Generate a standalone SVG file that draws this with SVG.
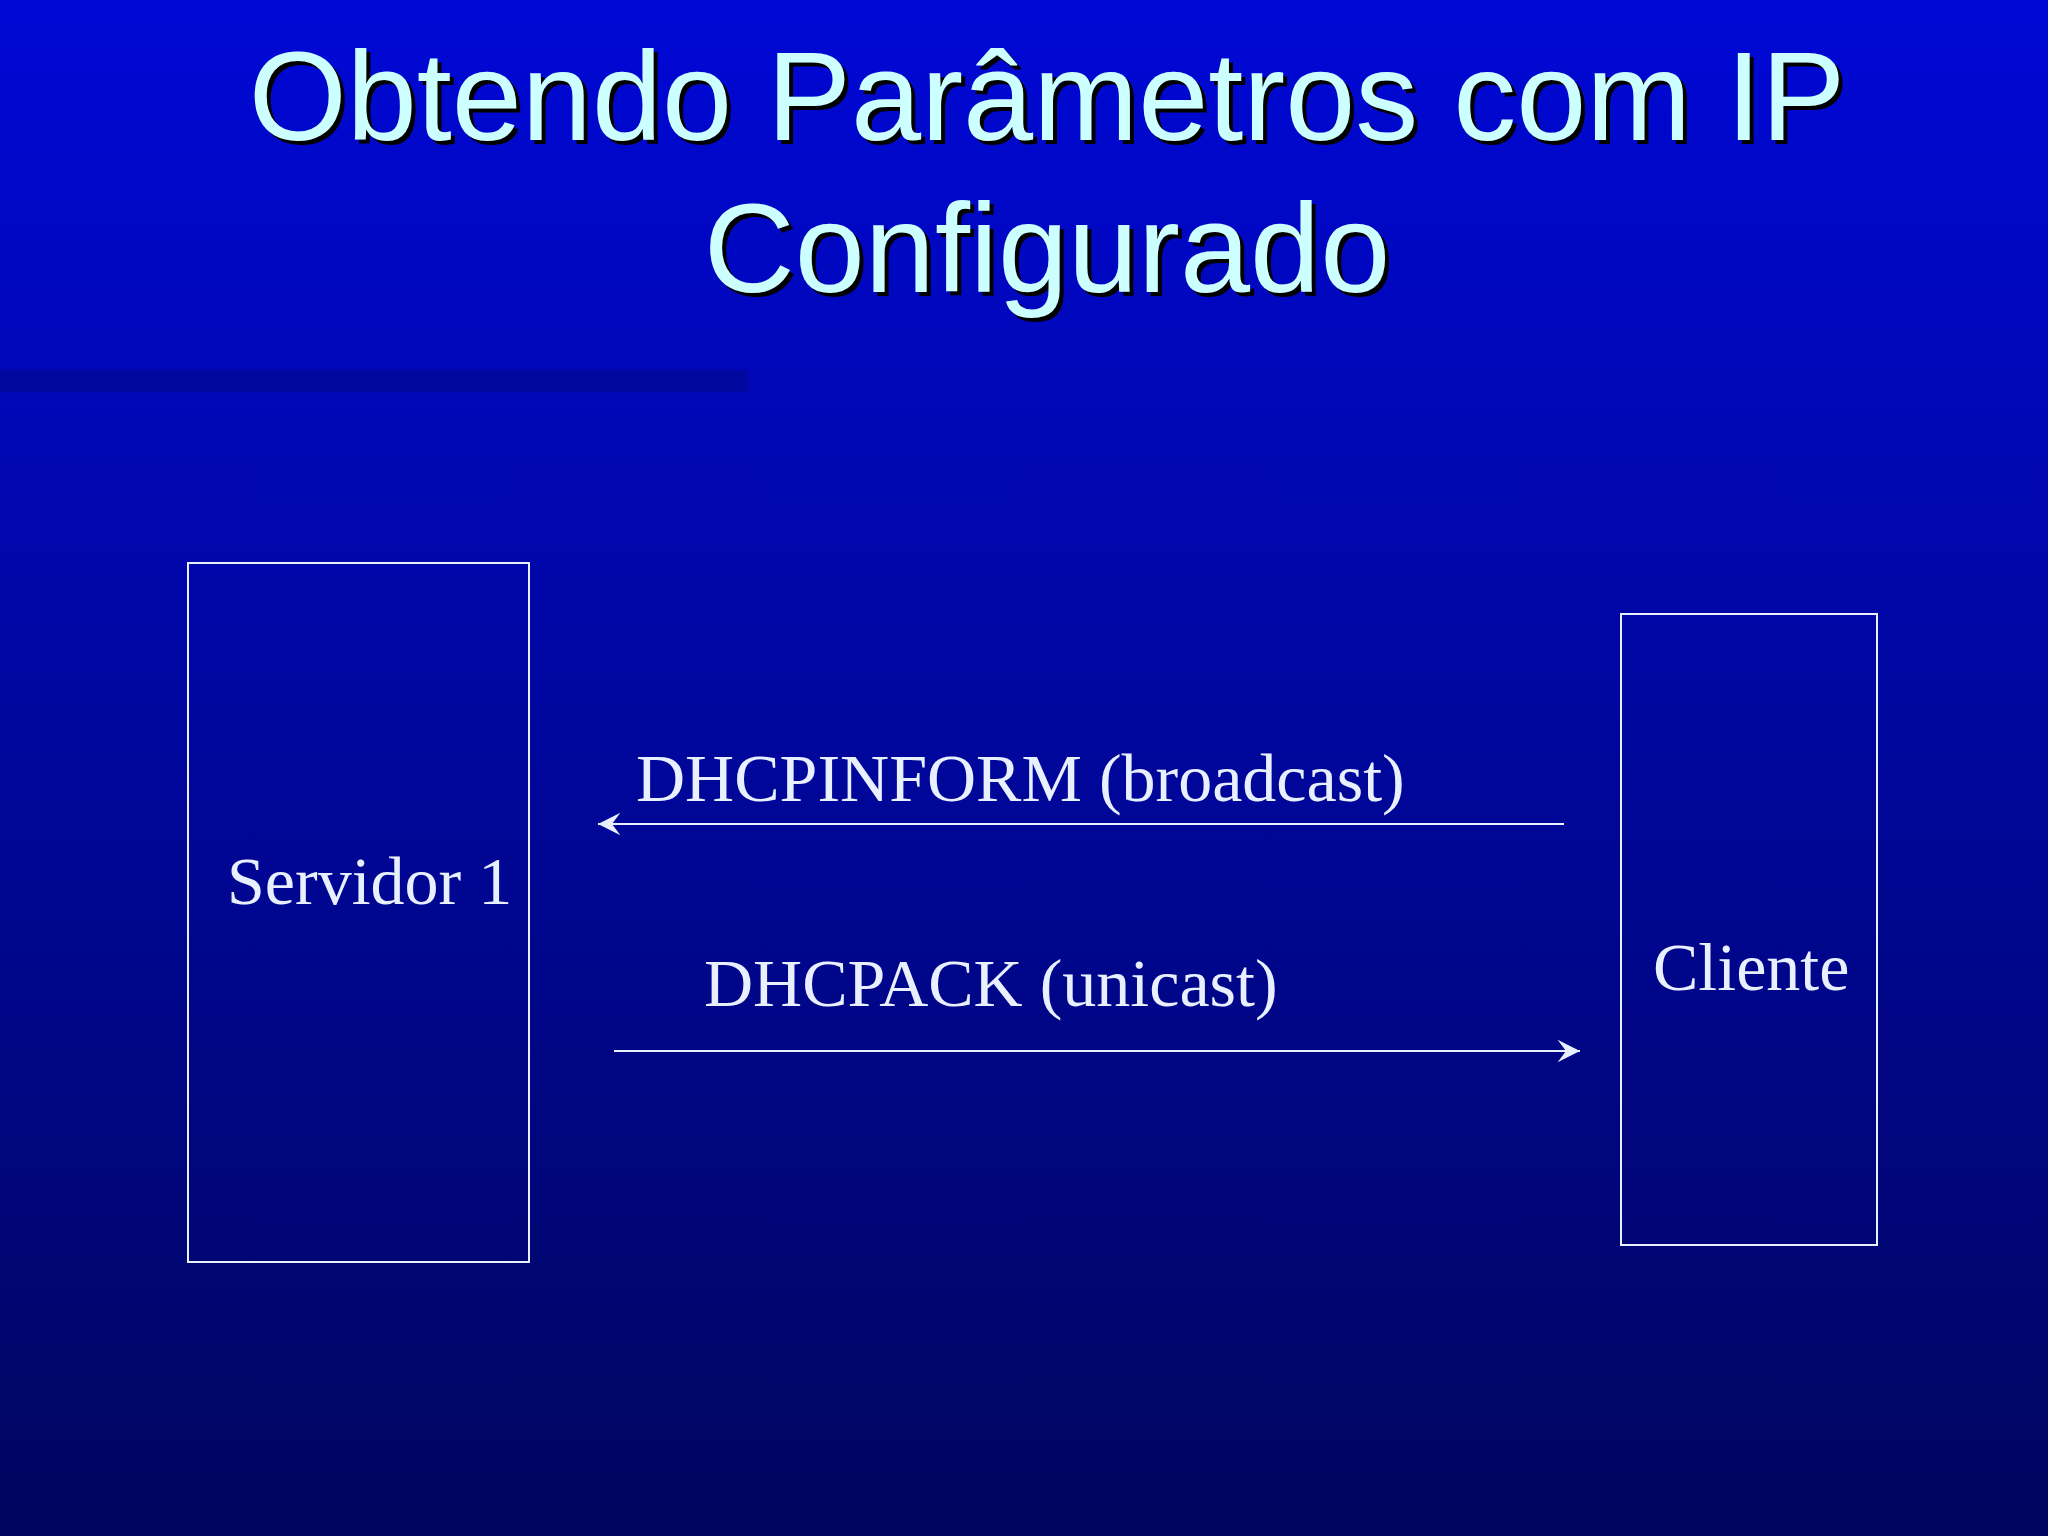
<svg xmlns="http://www.w3.org/2000/svg" width="2048" height="1536" viewBox="0 0 2048 1536">
<defs>
<linearGradient id="bg" x1="0" y1="0" x2="0" y2="1">
<stop offset="0" stop-color="#0008d6"/>
<stop offset="1" stop-color="#00055e"/>
</linearGradient>
<marker id="ah" viewBox="0 0 20 20" refX="18" refY="10" markerWidth="28" markerHeight="28" markerUnits="userSpaceOnUse" orient="auto">
<path d="M2,2 L18,10 L2,18 L8,10 Z" fill="#e8f0ff"/>
</marker>
<style>
.t{font-family:"Liberation Sans",Arial,sans-serif;font-size:126px;fill:#ccffff;text-anchor:middle}
.s{font-family:"Liberation Sans",Arial,sans-serif;font-size:126px;fill:#000;text-anchor:middle}
.l{font-family:"Liberation Serif","Times New Roman",serif;font-size:68px;fill:#e8f0ff}
.b{fill:none;stroke:#e8f0ff;stroke-width:2}
.c{stroke:#e8f0ff;stroke-width:2;fill:none;marker-end:url(#ah)}
</style>
</defs>
<rect width="2048" height="1536" fill="url(#bg)"/>
<rect x="0" y="370" width="748" height="22" fill="#0008a0"/>
<g id="title">
<text class="s" x="1051" y="144">Obtendo Parâmetros com IP</text>
<text class="t" x="1047" y="140">Obtendo Parâmetros com IP</text>
<text class="s" x="1051" y="296">Configurado</text>
<text class="t" x="1047" y="292">Configurado</text>
</g>
<g id="servidor">
<rect class="b" x="188" y="563" width="341" height="699"/>
<text class="l" x="227" y="904">Servidor 1</text>
</g>
<g id="cliente">
<rect class="b" x="1621" y="614" width="256" height="631"/>
<text class="l" x="1653" y="990">Cliente</text>
</g>
<g id="connectors">
<line class="c" x1="1564" y1="824" x2="598" y2="824"/>
<text class="l" x="636" y="801">DHCPINFORM (broadcast)</text>
<line class="c" x1="614" y1="1051" x2="1580" y2="1051"/>
<text class="l" x="704" y="1006">DHCPACK (unicast)</text>
</g>
</svg>
